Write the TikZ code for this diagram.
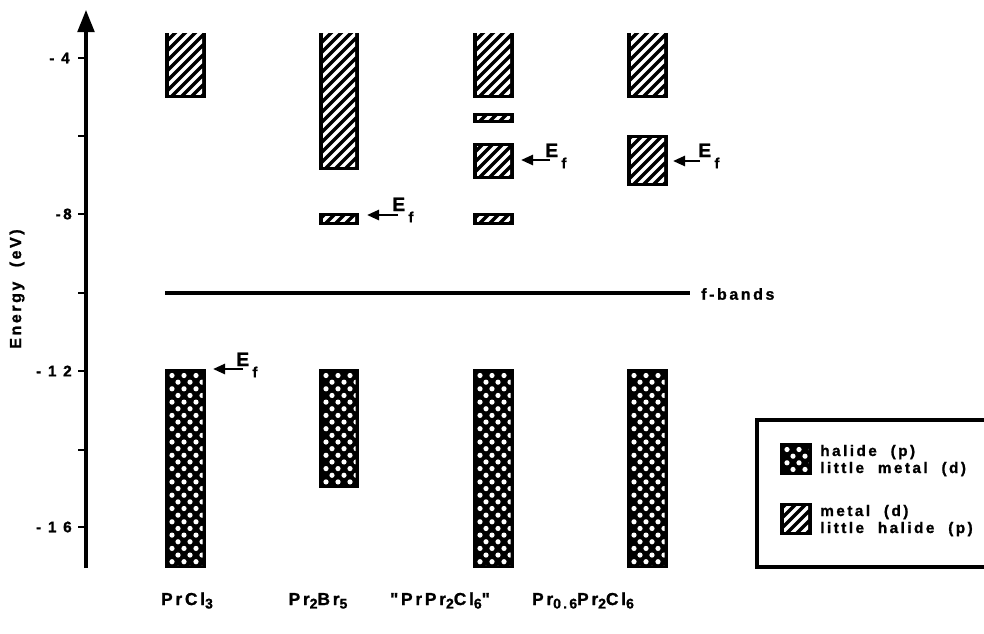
\documentclass[tikz,border=0pt]{standalone}
\usepackage{fontspec}
\usetikzlibrary{arrows.meta}
\newfontfamily\lab[LetterSpace=16, FakeBold=1.2]{Liberation Sans Bold}

% metal (d) band: black frame, white diagonal stripes
% #1 left, #2 top, #3 right, #4 bottom, #5 inset at the top
\newcommand{\metalband}[5]{%
  \fill (#1,#2) rectangle (#3,#4);
  \begin{scope}
    \clip (#1+4,#2+#5) rectangle (#3-4,#4-3.5);
    \foreach \k in {-150,-140,...,50}
      \draw[white, line width=2.6pt] (#1+\k,#4) -- ++(150,-150);
  \end{scope}}

% halide (p) band: black frame, staggered white dots
\newcommand{\halideband}[4]{%
  \fill (#1,#2) rectangle (#3,#4);
  \begin{scope}
    \clip (#1+3.5,#2+3) rectangle (#3-3.5,#4-3);
    \foreach \r in {0,...,30} {
      \pgfmathsetmacro\yy{#2+6.5+6.65*\r}
      \pgfmathsetmacro\off{mod(\r,2)*6}
      \foreach \c in {0,1,2,3}
        \fill[white] (#1+7+\off+12*\c,\yy) circle[radius=2.6];
    }
  \end{scope}}

\tikzset{
  txt/.style={inner sep=0pt, font=\lab\fontsize{12}{14}\selectfont},
  ticklbl/.style={inner sep=0pt, anchor=east, font=\lab\fontsize{11.5}{12}\selectfont},
  collbl/.style={inner sep=0pt, anchor=base, font=\lab\fontsize{13}{14}\selectfont},
  leglbl/.style={inner sep=0pt, anchor=base west, font=\lab\fontsize{11.5}{13}\selectfont},
  eflbl/.style={inner sep=0pt, anchor=base west, font=\lab},
  efarrow/.style={line width=1.9pt, -{Triangle[length=9pt,width=7.5pt]}},
}
\newcommand{\Ef}{{\fontsize{14.5}{14}\selectfont E}\hspace{2.5pt}\raisebox{-8.5pt}{\fontsize{11}{11}\selectfont f}}
\newcommand{\lowr}[1]{\raisebox{-2.6pt}{\fontsize{10.5}{10}\selectfont #1}}
\newcommand{\gap}{\hspace{0.9em}}

\begin{document}
\begin{tikzpicture}[x=0.75pt, y=-0.75pt]
\useasboundingbox (0,0) rectangle (984,633);

% energy axis
\coordinate (axbot) at (86,568);
\coordinate (axtop) at (86,10);
\draw[line width=2.3pt, -{Triangle[length=16.5pt,width=12.5pt]}] (axbot) -- (axtop);
\foreach \yv in {58,136,214,293,371,450,527}
  \draw[line width=1.9pt] (78,\yv) -- (86,\yv);
\node[ticklbl] (t4)  at (70,58)  {- 4};
\node[ticklbl] (t8)  at (72,214) {-8};
\node[ticklbl] (t12) at (72,371) {- 1 2};
\node[ticklbl] (t16) at (72,527) {- 1 6};
\node[txt, rotate=90] (ylab) at (17,289) {Energy\gap(eV)};

% f-bands level
\coordinate (fl) at (165,293);
\coordinate (fr) at (690,293);
\draw[line width=2.8pt] (fl) -- (fr);
\node[txt, anchor=west] (fb) at (701,294) {f-bands};

% PrCl3
\metalband{165}{33}{206}{98}{0}
\halideband{165}{369}{206}{568}
% Pr2Br5
\metalband{319}{33}{359}{170}{0}
\metalband{319}{213}{359}{225}{3}
\halideband{319}{369}{359}{488}
% "PrPr2Cl6"
\metalband{473}{33}{514}{98}{0}
\metalband{473}{113}{514}{123}{3}
\metalband{473}{143}{514}{179}{3}
\metalband{473}{213}{514}{225}{3}
\halideband{473}{369}{514}{568}
% Pr0.6Pr2Cl6
\metalband{627}{33}{668}{98}{0}
\metalband{627}{135}{668}{186}{3}
\halideband{627}{369}{668}{568}

% Fermi levels
\coordinate (tipA) at (213,369); \coordinate (tailA) at (243,369);
\coordinate (tipB) at (367,215); \coordinate (tailB) at (398,215);
\coordinate (tipC) at (521,160); \coordinate (tailC) at (550,160);
\coordinate (tipD) at (673,161); \coordinate (tailD) at (700,161);
\draw[efarrow] (tailA) -- (tipA);
\draw[efarrow] (tailB) -- (tipB);
\draw[efarrow] (tailC) -- (tipC);
\draw[efarrow] (tailD) -- (tipD);
\node[eflbl] (efA) at (236,366) {\Ef};
\node[eflbl] (efB) at (392,211) {\Ef};
\node[eflbl] (efC) at (545,157) {\Ef};
\node[eflbl] (efD) at (698,157) {\Ef};

% compound names
\node[collbl] (cA) at (187,605) {PrCl\lowr{3}};
\node[collbl] (cB) at (318,605) {Pr\lowr{2}Br\lowr{5}};
\node[collbl] (cC) at (440,605) {"PrPr\lowr{2}Cl\lowr{6}"};
\node[collbl] (cD) at (583,605) {Pr\lowr{0.6}Pr\lowr{2}Cl\lowr{6}};

% legend
\draw[line width=2.4pt] (995,420) -- (757,420) -- (757,567) -- (995,567);
\halideband{780}{443}{812}{475}
\metalband{780}{503}{812}{535}{3}
\node[leglbl] (l1) at (820,456) {halide\gap(p)};
\node[leglbl] (l2) at (820,473) {little\gap metal\gap(d)};
\node[leglbl] (l3) at (820,516) {metal\gap(d)};
\node[leglbl] (l4) at (820,533) {little\gap halide\gap(p)};
\end{tikzpicture}
\end{document}
